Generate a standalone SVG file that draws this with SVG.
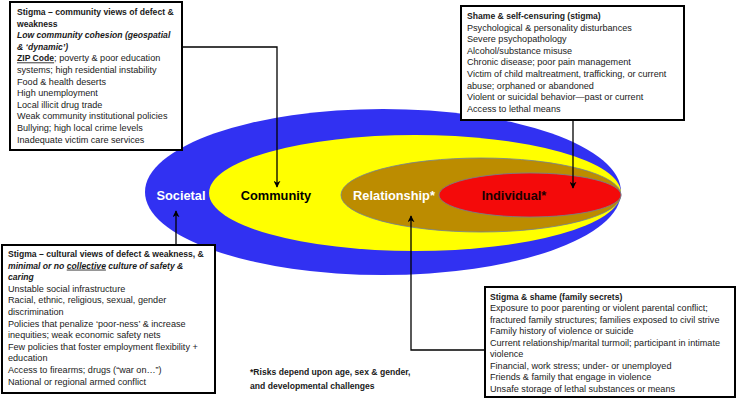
<svg xmlns="http://www.w3.org/2000/svg" width="740" height="400" viewBox="0 0 740 400">
<defs>
<style>
.box{fill:#fff;stroke:#000;stroke-width:2}
.t{font-family:"Liberation Sans",Arial,sans-serif;font-size:9.1px;fill:#1a1a1a}
.b{font-weight:bold;font-size:8.6px}
.bi{font-weight:bold;font-style:italic;font-size:8.6px}
.u{text-decoration:underline}
.lbl{font-family:"Liberation Sans",Arial,sans-serif;font-weight:bold;font-size:12.8px;text-anchor:middle}
.conn{fill:none;stroke:#000;stroke-width:1.3}
</style>
<marker id="arr" viewBox="0 0 10 10" refX="9" refY="5" markerWidth="7" markerHeight="7" markerUnits="userSpaceOnUse" orient="auto">
<path d="M0,0 L10,5 L0,10 L3,5 Z" fill="#000"/>
</marker>
</defs>
<rect width="740" height="400" fill="#fff"/>
<g id="ellipses">
<ellipse id="societal" cx="383" cy="192" rx="238" ry="83" fill="#3131F2"/>
<ellipse id="community" cx="415" cy="193" rx="206" ry="58" fill="#FFFF00"/>
<ellipse id="relationship" cx="481" cy="195" rx="140" ry="37" fill="#BC8C00" stroke="#6f7f9a" stroke-width="0.8"/>
<ellipse id="individual" cx="530" cy="195" rx="91" ry="22" fill="#F40A0A" stroke="#6f7f9a" stroke-width="0.8"/>
<text class="lbl" x="181" y="200" fill="#fff">Societal</text>
<text class="lbl" x="276" y="200" fill="#000">Community</text>
<text class="lbl" x="394" y="200" fill="#fff">Relationship*</text>
<text class="lbl" x="514" y="200" fill="#1a0000">Individual*</text>
</g>
<g id="connectors">
<path class="conn" d="M183,47 H277 V187" marker-end="url(#arr)"/>
<path class="conn" d="M573,120 V188" marker-end="url(#arr)"/>
<path class="conn" d="M176,245 V211" marker-end="url(#arr)"/>
<path class="conn" d="M485,350 H411 V216" marker-end="url(#arr)"/>
</g>
<g id="box-community">
<rect class="box" x="10" y="2" width="172" height="148"/>
<text class="t b" x="17" y="15">Stigma – community views of defect &amp;</text>
<text class="t b" x="17" y="26.6">weakness</text>
<text class="t bi" x="17" y="38.2">Low community cohesion (geospatial</text>
<text class="t bi" x="17" y="49.8">&amp; ‘dynamic’)</text>
<text class="t" x="17" y="61.4"><tspan class="b u">ZIP Code</tspan>; poverty &amp; poor education</text>
<text class="t" x="17" y="73">systems; high residential instability</text>
<text class="t" x="17" y="84.6">Food &amp; health deserts</text>
<text class="t" x="17" y="96.2">High unemployment</text>
<text class="t" x="17" y="107.8">Local illicit drug trade</text>
<text class="t" x="17" y="119.4">Weak community institutional policies</text>
<text class="t" x="17" y="131">Bullying; high local crime levels</text>
<text class="t" x="17" y="142.6">Inadequate victim care services</text>
</g>
<g id="box-individual">
<rect class="box" x="461" y="6" width="223" height="114"/>
<text class="t b" x="467" y="19">Shame &amp; self-censuring (stigma)</text>
<text class="t" x="467" y="30.6">Psychological &amp; personality disturbances</text>
<text class="t" x="467" y="42.2">Severe psychopathology</text>
<text class="t" x="467" y="53.8">Alcohol/substance misuse</text>
<text class="t" x="467" y="65.4">Chronic disease; poor pain management</text>
<text class="t" x="467" y="77">Victim of child maltreatment, trafficking, or current</text>
<text class="t" x="467" y="88.6">abuse; orphaned or abandoned</text>
<text class="t" x="467" y="100.2">Violent or suicidal behavior—past or current</text>
<text class="t" x="467" y="111.8">Access to lethal means</text>
</g>
<g id="box-societal">
<rect class="box" x="2" y="245" width="213" height="148"/>
<text class="t b" x="8" y="257">Stigma – cultural views of defect &amp; weakness, &amp;</text>
<text class="t bi" x="8" y="268.6">minimal or no <tspan class="u">collective</tspan> culture of safety &amp;</text>
<text class="t bi" x="8" y="280.2">caring</text>
<text class="t" x="8" y="291.8">Unstable social infrastructure</text>
<text class="t" x="8" y="303.4">Racial, ethnic, religious, sexual, gender</text>
<text class="t" x="8" y="315">discrimination</text>
<text class="t" x="8" y="326.6">Policies that penalize ‘poor-ness’ &amp; increase</text>
<text class="t" x="8" y="338.2">inequities; weak economic safety nets</text>
<text class="t" x="8" y="349.8">Few policies that foster employment flexibility +</text>
<text class="t" x="8" y="361.4">education</text>
<text class="t" x="8" y="373">Access to firearms; drugs (“war on…”)</text>
<text class="t" x="8" y="384.6">National or regional armed conflict</text>
</g>
<g id="box-relationship">
<rect class="box" x="485" y="287" width="250" height="110"/>
<text class="t b" x="490" y="299.5">Stigma &amp; shame (family secrets)</text>
<text class="t" x="490" y="311">Exposure to poor parenting or violent parental conflict;</text>
<text class="t" x="490" y="322.5">fractured family structures; families exposed to civil strive</text>
<text class="t" x="490" y="334">Family history of violence or suicide</text>
<text class="t" x="490" y="345.5">Current relationship/marital turmoil; participant in intimate</text>
<text class="t" x="490" y="357">violence</text>
<text class="t" x="490" y="368.5">Financial, work stress; under- or unemployed</text>
<text class="t" x="490" y="380">Friends &amp; family that engage in violence</text>
<text class="t" x="490" y="391.5">Unsafe storage of lethal substances or means</text>
</g>
<g id="footnote">
<text class="t b" x="250" y="375">*Risks depend upon age, sex &amp; gender,</text>
<text class="t b" x="250" y="389">and developmental challenges</text>
</g>
</svg>
